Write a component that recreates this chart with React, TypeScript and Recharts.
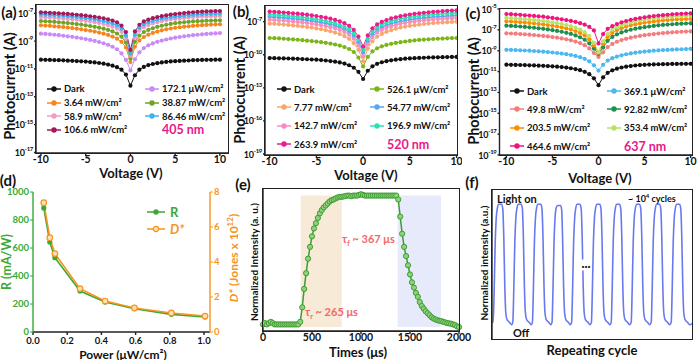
import React from 'react'
import { LineChart, Line, XAxis, YAxis, ReferenceArea } from 'recharts'

const FONT = 'Lato, "Open Sans", sans-serif'
const NM_PINK = '#e8178a'
const SALMON = '#f0696b'

// bias sweep (V)
const voltages = [-10, -9.5, -9, -8.5, -8, -7.5, -7, -6.5, -6, -5.5, -5, -4.5, -4, -3.5, -3, -2.5, -2, -1.5, -1, -0.5, 0, 0.5, 1, 1.5, 2, 2.5, 3, 3.5, 4, 4.5, 5, 5.5, 6, 6.5, 7, 7.5, 8, 8.5, 9, 9.5, 10]
const voltTicks = [-10, -5, 0, 5, 10]

// (a) 405 nm, log10 photocurrent
const a405Dark = [-10.33, -10.34, -10.35, -10.36, -10.37, -10.38, -10.4, -10.41, -10.43, -10.45, -10.47, -10.5, -10.53, -10.57, -10.62, -10.68, -10.76, -10.87, -11.05, -11.4, -12.2, -11.45, -11.05, -10.85, -10.72, -10.64, -10.58, -10.53, -10.49, -10.46, -10.44, -10.42, -10.4, -10.39, -10.37, -10.36, -10.35, -10.34, -10.34, -10.33, -10.33]
const a405P172 = [-8.46, -8.48, -8.51, -8.54, -8.57, -8.61, -8.65, -8.69, -8.74, -8.79, -8.85, -8.91, -8.98, -9.06, -9.15, -9.26, -9.4, -9.58, -9.88, -10.35, -11.1, -10.3, -9.8, -9.5, -9.3, -9.16, -9.05, -8.96, -8.88, -8.81, -8.75, -8.7, -8.65, -8.61, -8.57, -8.54, -8.51, -8.48, -8.46, -8.44, -8.42]
const a405P364 = [-7.86, -7.88, -7.9, -7.93, -7.96, -7.99, -8.02, -8.06, -8.1, -8.15, -8.2, -8.25, -8.31, -8.38, -8.46, -8.55, -8.67, -8.82, -9.05, -9.45, -10.5, -9.4, -8.95, -8.7, -8.53, -8.41, -8.31, -8.22, -8.15, -8.09, -8.04, -8.0, -7.96, -7.93, -7.9, -7.87, -7.85, -7.83, -7.81, -7.8, -7.79]
const a405P3887 = [-7.55, -7.57, -7.59, -7.61, -7.64, -7.67, -7.7, -7.73, -7.77, -7.81, -7.86, -7.91, -7.97, -8.03, -8.1, -8.19, -8.3, -8.45, -8.68, -9.1, -10.25, -9.05, -8.6, -8.35, -8.19, -8.07, -7.97, -7.89, -7.82, -7.76, -7.71, -7.67, -7.64, -7.61, -7.58, -7.56, -7.55, -7.53, -7.52, -7.51, -7.5]
const a405P589 = [-7.27, -7.28, -7.3, -7.32, -7.34, -7.37, -7.4, -7.43, -7.46, -7.5, -7.54, -7.59, -7.64, -7.7, -7.77, -7.85, -7.96, -8.1, -8.33, -8.8, -10.05, -8.75, -8.25, -8.0, -7.84, -7.73, -7.64, -7.56, -7.5, -7.44, -7.4, -7.36, -7.33, -7.3, -7.27, -7.25, -7.23, -7.22, -7.21, -7.2, -7.19]
const a405P8646 = [-7.09, -7.1, -7.12, -7.14, -7.16, -7.18, -7.21, -7.24, -7.27, -7.31, -7.35, -7.39, -7.44, -7.5, -7.56, -7.64, -7.74, -7.87, -8.1, -8.6, -9.9, -8.55, -8.05, -7.8, -7.65, -7.55, -7.46, -7.39, -7.33, -7.28, -7.24, -7.2, -7.17, -7.14, -7.11, -7.09, -7.07, -7.05, -7.04, -7.03, -7.02]
const a405P1066 = [-6.93, -6.94, -6.96, -6.98, -7.0, -7.02, -7.04, -7.07, -7.1, -7.13, -7.17, -7.21, -7.25, -7.3, -7.36, -7.43, -7.52, -7.64, -7.88, -8.35, -9.62, -8.3, -7.82, -7.58, -7.45, -7.35, -7.27, -7.2, -7.14, -7.09, -7.05, -7.01, -6.98, -6.95, -6.92, -6.9, -6.88, -6.86, -6.85, -6.84, -6.83]

// (b) 520 nm
const b520Dark = [-10.3, -10.31, -10.32, -10.33, -10.34, -10.36, -10.37, -10.39, -10.41, -10.43, -10.45, -10.48, -10.52, -10.57, -10.63, -10.7, -10.8, -10.95, -11.18, -11.55, -12.2, -11.45, -11.05, -10.82, -10.68, -10.58, -10.51, -10.45, -10.4, -10.36, -10.33, -10.31, -10.29, -10.27, -10.25, -10.24, -10.23, -10.22, -10.21, -10.2, -10.2]
const b520P526 = [-8.48, -8.5, -8.52, -8.55, -8.58, -8.61, -8.64, -8.68, -8.72, -8.76, -8.81, -8.86, -8.92, -8.99, -9.07, -9.17, -9.3, -9.48, -9.75, -10.25, -11.06, -10.2, -9.7, -9.42, -9.24, -9.11, -9.01, -8.93, -8.86, -8.8, -8.75, -8.7, -8.66, -8.63, -8.6, -8.57, -8.55, -8.53, -8.51, -8.49, -8.48]
const b520P777 = [-7.18, -7.2, -7.23, -7.26, -7.3, -7.34, -7.38, -7.43, -7.48, -7.54, -7.61, -7.68, -7.77, -7.87, -7.99, -8.13, -8.31, -8.56, -8.95, -9.55, -10.6, -9.45, -8.78, -8.37, -8.11, -7.92, -7.77, -7.64, -7.54, -7.45, -7.38, -7.32, -7.26, -7.21, -7.17, -7.13, -7.1, -7.07, -7.05, -7.02, -7.0]
const b520P5477 = [-6.57, -6.59, -6.62, -6.65, -6.69, -6.73, -6.77, -6.82, -6.87, -6.93, -7.0, -7.07, -7.15, -7.25, -7.36, -7.5, -7.68, -7.92, -8.28, -8.88, -9.8, -8.8, -8.15, -7.76, -7.52, -7.34, -7.2, -7.08, -6.98, -6.9, -6.83, -6.77, -6.72, -6.67, -6.63, -6.59, -6.56, -6.53, -6.5, -6.47, -6.45]
const b520P1427 = [-6.82, -6.84, -6.87, -6.9, -6.94, -6.98, -7.02, -7.07, -7.12, -7.18, -7.25, -7.32, -7.4, -7.5, -7.61, -7.75, -7.93, -8.18, -8.55, -9.15, -10.15, -9.05, -8.4, -8.0, -7.75, -7.57, -7.42, -7.3, -7.2, -7.11, -7.04, -6.98, -6.93, -6.88, -6.84, -6.8, -6.77, -6.74, -6.71, -6.68, -6.66]
const b520P1969 = [-6.36, -6.38, -6.41, -6.44, -6.48, -6.52, -6.56, -6.61, -6.66, -6.72, -6.79, -6.86, -6.94, -7.04, -7.15, -7.29, -7.46, -7.7, -8.05, -8.65, -9.55, -8.55, -7.9, -7.52, -7.28, -7.1, -6.96, -6.84, -6.74, -6.66, -6.59, -6.53, -6.48, -6.43, -6.39, -6.35, -6.32, -6.29, -6.26, -6.23, -6.21]
const b520P2639 = [-6.09, -6.11, -6.14, -6.17, -6.2, -6.24, -6.28, -6.32, -6.37, -6.43, -6.49, -6.56, -6.64, -6.73, -6.84, -6.97, -7.14, -7.38, -7.75, -8.35, -9.25, -8.25, -7.6, -7.25, -7.02, -6.85, -6.71, -6.6, -6.5, -6.42, -6.35, -6.29, -6.24, -6.19, -6.15, -6.11, -6.08, -6.05, -6.02, -5.99, -5.97]

// (c) 637 nm
const c637Dark = [-10.34, -10.35, -10.36, -10.37, -10.38, -10.4, -10.41, -10.43, -10.45, -10.47, -10.5, -10.53, -10.57, -10.62, -10.68, -10.76, -10.87, -11.02, -11.25, -11.65, -12.3, -11.55, -11.12, -10.88, -10.72, -10.61, -10.53, -10.47, -10.42, -10.38, -10.35, -10.33, -10.31, -10.3, -10.29, -10.28, -10.27, -10.27, -10.26, -10.26, -10.25]
const c637P369 = [-8.91, -8.92, -8.94, -8.96, -8.98, -9.0, -9.03, -9.06, -9.09, -9.13, -9.17, -9.22, -9.27, -9.33, -9.41, -9.5, -9.62, -9.78, -10.02, -10.4, -10.9, -10.35, -9.95, -9.72, -9.56, -9.44, -9.34, -9.26, -9.19, -9.13, -9.08, -9.04, -9.0, -8.97, -8.94, -8.92, -8.9, -8.88, -8.86, -8.84, -8.82]
const c637P498 = [-7.33, -7.35, -7.37, -7.4, -7.43, -7.46, -7.5, -7.54, -7.58, -7.63, -7.69, -7.75, -7.82, -7.9, -8.0, -8.12, -8.27, -8.47, -8.78, -9.22, -9.6, -9.15, -8.65, -8.35, -8.14, -7.98, -7.86, -7.75, -7.66, -7.58, -7.51, -7.45, -7.4, -7.35, -7.31, -7.27, -7.24, -7.21, -7.18, -7.16, -7.14]
const c637P9282 = [-6.6, -6.62, -6.65, -6.68, -6.72, -6.76, -6.8, -6.85, -6.9, -6.96, -7.03, -7.1, -7.18, -7.28, -7.39, -7.53, -7.71, -7.95, -8.3, -8.8, -9.3, -8.7, -8.05, -7.68, -7.43, -7.25, -7.11, -6.99, -6.89, -6.81, -6.74, -6.68, -6.62, -6.57, -6.53, -6.49, -6.46, -6.43, -6.41, -6.39, -6.37]
const c637P2035 = [-6.18, -6.2, -6.23, -6.26, -6.3, -6.34, -6.38, -6.43, -6.48, -6.54, -6.61, -6.68, -6.76, -6.86, -6.97, -7.11, -7.29, -7.54, -7.92, -8.5, -9.2, -8.35, -7.68, -7.28, -7.02, -6.84, -6.69, -6.57, -6.47, -6.38, -6.31, -6.25, -6.19, -6.14, -6.1, -6.06, -6.03, -6.0, -5.98, -5.96, -5.95]
const c637P3534 = [-5.86, -5.88, -5.91, -5.94, -5.98, -6.02, -6.06, -6.11, -6.16, -6.22, -6.29, -6.36, -6.44, -6.54, -6.65, -6.79, -6.97, -7.22, -7.6, -8.25, -9.14, -8.1, -7.4, -7.0, -6.74, -6.55, -6.4, -6.28, -6.18, -6.09, -6.01, -5.95, -5.89, -5.84, -5.8, -5.76, -5.73, -5.7, -5.68, -5.66, -5.64]
const c637P4646 = [-5.48, -5.5, -5.53, -5.56, -5.6, -5.63, -5.66, -5.7, -5.74, -5.8, -5.86, -5.92, -5.99, -6.06, -6.14, -6.24, -6.36, -6.5, -6.72, -7.05, -8.3, -7.4, -6.9, -6.65, -6.45, -6.28, -6.15, -6.04, -5.95, -5.87, -5.8, -5.74, -5.68, -5.63, -5.59, -5.55, -5.51, -5.48, -5.46, -5.44, -5.42]

// (d) responsivity / detectivity vs power
const dPower = [0.063, 0.098, 0.128, 0.275, 0.422, 0.593, 0.809, 1.006]
const dResp = [886, 643, 531, 293, 214, 167, 126, 107]
const dDetect = [7.39, 5.39, 4.48, 2.48, 1.77, 1.37, 1.09, 0.91]

// (e) single pulse response
const eTime = [0, 20, 40, 60, 80, 100, 120, 140, 160, 180, 200, 220, 240, 260, 280, 300, 320, 340, 360, 380, 400, 420, 440, 460, 480, 500, 520, 540, 560, 580, 600, 620, 640, 660, 680, 700, 720, 740, 760, 780, 800, 820, 840, 860, 880, 900, 920, 940, 960, 980, 1000, 1020, 1040, 1060, 1080, 1100, 1120, 1140, 1160, 1180, 1200, 1220, 1240, 1260, 1280, 1300, 1320, 1340, 1360, 1380, 1400, 1420, 1440, 1460, 1480, 1500, 1520, 1540, 1560, 1580, 1600, 1620, 1640, 1660, 1680, 1700, 1720, 1740, 1760, 1780, 1800, 1820, 1840, 1860, 1880, 1900, 1920, 1940, 1960, 1980, 2000]
const eIntensity = [0.02, 0.03, 0.02, 0.03, 0.04, 0.03, 0.02, 0.02, 0.02, 0.02, 0.02, 0.02, 0.02, 0.02, 0.02, 0.02, 0.02, 0.02, 0.02, 0.04, 0.15, 0.29, 0.41, 0.52, 0.61, 0.69, 0.75, 0.79, 0.83, 0.865, 0.89, 0.91, 0.925, 0.94, 0.955, 0.965, 0.97, 0.978, 0.985, 0.99, 0.99, 0.993, 0.996, 1.0, 1.0, 0.995, 1.0, 1.0, 1.0, 1.005, 1.01, 1.005, 1.0, 1.0, 1.0, 1.0, 1.0, 1.0, 1.0, 1.0, 1.0, 1.0, 1.0, 1.0, 1.0, 1.0, 1.0, 1.0, 1.0, 0.97, 0.84, 0.71, 0.61, 0.54, 0.47, 0.4, 0.34, 0.3, 0.26, 0.23, 0.19, 0.16, 0.14, 0.12, 0.105, 0.09, 0.075, 0.065, 0.058, 0.052, 0.048, 0.045, 0.04, 0.035, 0.03, 0.028, 0.025, 0.02, 0.015, 0.005, 0.0]
const eTicks = [0, 500, 1000, 1500, 2000]

// (f) repeated on/off cycles, [position, normalized intensity]
const fCycles = [
  [0, 0.03], [0.6, 0.02], [1.1, 0.3], [1.6, 0.68], [2.1, 0.88], [2.7, 0.97], [3.4, 1.0], [4.8, 1.0], [5.4, 0.96], [5.9, 0.72], [6.4, 0.32], [6.9, 0.1], [7.6, 0.04], [8.8, 0.02], [9.8, 0.0],
  [10.4, 0.02], [10.9, 0.3], [11.4, 0.68], [11.9, 0.88], [12.5, 0.97], [13.2, 1.0], [14.6, 1.0], [15.2, 0.96], [15.7, 0.72], [16.2, 0.32], [16.7, 0.1], [17.4, 0.04], [18.6, 0.02], [19.6, 0.0],
  [20.2, 0.02], [20.7, 0.3], [21.2, 0.68], [21.7, 0.88], [22.3, 0.97], [23.0, 1.0], [24.4, 1.0], [25.0, 0.96], [25.5, 0.72], [26.0, 0.32], [26.5, 0.1], [27.2, 0.04], [28.4, 0.02], [29.4, 0.0],
  [30.0, 0.02], [30.5, 0.3], [31.0, 0.68], [31.5, 0.88], [32.1, 0.97], [32.8, 0.99], [34.2, 0.99], [34.8, 0.96], [35.3, 0.72], [35.8, 0.32], [36.3, 0.1], [37.0, 0.04], [38.2, 0.02], [39.2, 0.0],
  [39.8, 0.02], [40.3, 0.3], [40.8, 0.68], [41.3, 0.88], [41.9, 0.97], [42.6, 1.0], [44.0, 1.0], [44.6, 0.96], [45.1, 0.72], [45.6, 0.32], [46.1, 0.1], [46.8, 0.04], [48.0, 0.02], [49.0, 0.0],
  [49.7, 0.02], [50.2, 0.3], [50.7, 0.68], [51.2, 0.88], [51.8, 0.97], [52.5, 1.0], [53.9, 1.0], [54.5, 0.96], [55.0, 0.72], [55.5, 0.32], [56.0, 0.1], [56.7, 0.04], [57.9, 0.02], [58.9, 0.0],
  [59.6, 0.02], [60.1, 0.3], [60.6, 0.68], [61.1, 0.88], [61.7, 0.97], [62.4, 1.0], [63.8, 1.0], [64.4, 0.96], [64.9, 0.72], [65.4, 0.32], [65.9, 0.1], [66.6, 0.04], [67.8, 0.02], [68.8, 0.0],
  [69.6, 0.02], [70.1, 0.3], [70.6, 0.68], [71.1, 0.88], [71.7, 0.97], [72.4, 1.0], [73.8, 1.0], [74.4, 0.96], [74.9, 0.72], [75.4, 0.32], [75.9, 0.1], [76.6, 0.04], [77.8, 0.02], [78.8, 0.0],
  [79.6, 0.02], [80.1, 0.3], [80.6, 0.68], [81.1, 0.88], [81.7, 0.97], [82.4, 1.0], [83.8, 1.0], [84.4, 0.96], [84.9, 0.72], [85.4, 0.32], [85.9, 0.1], [86.6, 0.04], [87.8, 0.02], [88.8, 0.0],
  [89.6, 0.02], [90.1, 0.3], [90.6, 0.68], [91.1, 0.88], [91.7, 0.97], [92.4, 1.0], [93.8, 1.0], [94.4, 0.96], [94.9, 0.72], [95.4, 0.32], [95.9, 0.1], [96.6, 0.04], [97.8, 0.02], [98.8, 0.0], [100, 0.01],
]

const seriesA = [
  { key: 'dark', name: 'Dark', color: '#111111', values: a405Dark },
  { key: 'p1', name: '172.1 μW/cm²', color: '#c98af5', values: a405P172 },
  { key: 'p2', name: '3.64 mW/cm²', color: '#f6851f', values: a405P364 },
  { key: 'p3', name: '38.87 mW/cm²', color: '#6ea526', values: a405P3887 },
  { key: 'p4', name: '58.9 mW/cm²', color: '#f59ac8', values: a405P589 },
  { key: 'p5', name: '86.46 mW/cm²', color: '#3db4f2', values: a405P8646 },
  { key: 'p6', name: '106.6 mW/cm²', color: '#a3195b', values: a405P1066 },
]
const seriesB = [
  { key: 'dark', name: 'Dark', color: '#111111', values: b520Dark },
  { key: 'p1', name: '526.1 μW/cm²', color: '#7cb518', values: b520P526 },
  { key: 'p2', name: '7.77 mW/cm²', color: '#f8a66c', values: b520P777 },
  { key: 'p3', name: '54.77 mW/cm²', color: '#52a8f2', values: b520P5477 },
  { key: 'p4', name: '142.7 mW/cm²', color: '#f78cc0', values: b520P1427 },
  { key: 'p5', name: '196.9 mW/cm²', color: '#2fe0b0', values: b520P1969 },
  { key: 'p6', name: '263.9 mW/cm²', color: '#ec1c8c', values: b520P2639 },
]
const seriesC = [
  { key: 'dark', name: 'Dark', color: '#111111', values: c637Dark },
  { key: 'p1', name: '369.1 μW/cm²', color: '#4db8f0', values: c637P369 },
  { key: 'p2', name: '49.8 mW/cm²', color: '#f47c7c', values: c637P498 },
  { key: 'p3', name: '92.82 mW/cm²', color: '#1f8f4f', values: c637P9282 },
  { key: 'p4', name: '203.5 mW/cm²', color: '#ff8c00', values: c637P2035 },
  { key: 'p5', name: '353.4 mW/cm²', color: '#b5e36b', values: c637P3534 },
  { key: 'p6', name: '464.6 mW/cm²', color: '#f0147e', values: c637P4646 },
]

type Series = { key: string; name: string; color: string; values: number[] }

function buildTable(series: Series[]) {
  return voltages.map((v, i) => {
    const row: Record<string, number> = { v }
    series.forEach((s) => {
      row[s.key] = Math.pow(10, s.values[i])
    })
    return row
  })
}

const frame = { stroke: '#222', strokeWidth: 1.4 }
const tickFont = { fontSize: 10.5, fontWeight: 700, fill: '#111', fontFamily: FONT }

function PowTick(props: any) {
  const { x, y, payload } = props
  const e = Math.round(Math.log10(payload.value))
  return (
    <text x={x} y={y} textAnchor="end" fontFamily={FONT} fontWeight={700} fill="#111" letterSpacing={-0.3}>
      <tspan fontSize={9} dy={3.5}>10</tspan>
      <tspan fontSize={6} dy={-4.5}>{e}</tspan>
    </text>
  )
}

// plot box outline (top/right sides of the axes frame)
function Frame({ x1, y1, x2, y2 }: any) {
  return (
    <div style={{
      position: 'absolute', left: x1 - 0.7, top: y1 - 0.7, width: x2 - x1 + 1.4, height: y2 - y1 + 1.4,
      border: '1.4px solid #222', boxSizing: 'border-box', pointerEvents: 'none',
    }} />
  )
}

function Txt({ x, y, size = 13, color = '#111', rot = false, anchor = 'center', italic = false, bg, children }: any) {
  const tx = anchor === 'center' ? '-50%' : '0'
  return (
    <div
      style={{
        position: 'absolute',
        left: x,
        top: y,
        transform: `translate(${tx}, -50%)${rot ? ' rotate(-90deg)' : ''}`,
        transformOrigin: anchor === 'center' ? 'center' : 'left center',
        whiteSpace: 'nowrap',
        fontFamily: FONT,
        fontWeight: 700,
        fontSize: size,
        fontStyle: italic ? 'italic' : 'normal',
        color,
        lineHeight: 1,
        background: bg,
      }}
    >
      {children}
    </div>
  )
}

function Marker({ color, hollow = false, w = 14 }: any) {
  return (
    <svg width={w} height={8} style={{ flex: 'none' }}>
      <line x1={0} x2={w} y1={4} y2={4} stroke={color} strokeWidth={1.5} />
      <circle cx={w / 2} cy={4} r={2.7} fill={hollow ? '#fde0b8' : color} stroke={color} strokeWidth={hollow ? 1.2 : 0} />
    </svg>
  )
}

function IVPanel({ p }: any) {
  const data = buildTable(p.series)
  const lg = p.legend
  return (
    <div style={{ position: 'absolute', left: p.left, top: p.top }}>
      <LineChart width={p.width} height={p.height} data={data} margin={p.margin}>
        <XAxis dataKey="v" type="number" domain={p.xDomain} ticks={voltTicks} allowDataOverflow height={16}
          tickSize={3} tickMargin={0} tick={tickFont} axisLine={frame} tickLine={frame} interval={0} />
        <YAxis type="number" scale="log" domain={[Math.pow(10, p.yExp[0]), Math.pow(10, p.yExp[1])]} allowDataOverflow
          ticks={p.yTicks.map((e: number) => Math.pow(10, e))} interval={0} width={p.yWidth}
          tickSize={2} tickMargin={1} tick={<PowTick />} axisLine={frame} tickLine={frame} />
        {p.series.map((s: Series) => (
          <Line key={s.key} dataKey={s.key} name={s.name} stroke={s.color} strokeWidth={1}
            dot={{ r: 2.1, fill: s.color, stroke: 'none' }} isAnimationActive={false} />
        ))}
      </LineChart>
      <div style={{
        position: 'absolute', left: lg.left, top: lg.top, display: 'grid',
        gridTemplateColumns: `${lg.colW}px ${lg.colW}px`, gridAutoRows: `${lg.rowH}px`,
        alignItems: 'center', fontFamily: FONT, fontWeight: 700, fontSize: 9.5, color: '#111',
      }}>
        {p.series.map((s: Series) => (
          <div key={s.key} style={{ display: 'flex', alignItems: 'center', whiteSpace: 'nowrap' }}>
            <Marker color={s.color} />
            <span style={{ marginLeft: 3 }}>{s.name}</span>
          </div>
        ))}
        <div style={{ paddingLeft: 17, color: NM_PINK, fontSize: 12.5 }}>{p.nm}</div>
      </div>
    </div>
  )
}

const panelA = {
  left: 0, top: 0, width: 240, height: 169, margin: { top: 5, right: 12, left: 0, bottom: 0 }, yWidth: 36,
  xDomain: [-10.55, 10.9], yExp: [-17.04, -6.4], yTicks: [-17, -15, -13, -11, -9, -7],
  series: seriesA, legend: { left: 47, top: 82, colW: 98, rowH: 13.7 }, nm: '405 nm',
}
const panelB = {
  left: 230, top: 0, width: 232, height: 171, margin: { top: 6, right: 4.5, left: 0, bottom: 0 }, yWidth: 35,
  xDomain: [-10.5, 10.1], yExp: [-19.09, -5.58], yTicks: [-19, -16, -13, -10, -7],
  series: seriesB, legend: { left: 47, top: 80, colW: 93, rowH: 18.3 }, nm: '520 nm',
}
const panelC = {
  left: 462, top: 0, width: 238, height: 171, margin: { top: 9, right: 8, left: 0, bottom: 0 }, yWidth: 37.5,
  xDomain: [-10.75, 10.15], yExp: [-19, -5], yTicks: [-19, -17, -15, -13, -11, -9, -7, -5],
  series: seriesC, legend: { left: 48, top: 82, colW: 97, rowH: 18.3 }, nm: '637 nm',
}

const GREEN = '#3aa935'
const ORANGE = '#f7941d'

function PanelD() {
  const data = dPower.map((p, i) => ({ p, r: dResp[i], d: dDetect[i] }))
  const sideTick = { ...tickFont, fontSize: 9.5 }
  return (
    <div style={{ position: 'absolute', left: 0, top: 180 }}>
      <LineChart width={240} height={166} data={data} margin={{ top: 12, right: 0, left: 0, bottom: 0 }}>
        <XAxis dataKey="p" type="number" domain={[0, 1.035]} ticks={[0, 0.2, 0.4, 0.6, 0.8, 1.0]} interval={0}
          tickFormatter={(v: number) => v.toFixed(1)} height={14} tickSize={3} tickMargin={2}
          tick={{ ...tickFont, fontSize: 9.5 }} axisLine={frame} tickLine={frame} />
        <YAxis yAxisId="r" domain={[0, 1000]} ticks={[0, 200, 400, 600, 800, 1000]} interval={0} width={33}
          tickSize={3} tickMargin={1} tick={{ ...sideTick, fill: GREEN }}
          axisLine={{ stroke: GREEN, strokeWidth: 1.4 }} tickLine={{ stroke: GREEN }} />
        <YAxis yAxisId="d" orientation="right" domain={[0, 8]} ticks={[0, 2, 4, 6, 8]} interval={0} width={30}
          tickSize={3} tickMargin={1} tick={{ ...sideTick, fill: ORANGE }}
          axisLine={{ stroke: ORANGE, strokeWidth: 1.4 }} tickLine={{ stroke: ORANGE }} />
        <Line yAxisId="r" dataKey="r" stroke={GREEN} strokeWidth={1.6}
          dot={{ r: 2.6, fill: GREEN, stroke: GREEN, strokeWidth: 0 }} isAnimationActive={false} />
        <Line yAxisId="d" dataKey="d" stroke={ORANGE} strokeWidth={1.6}
          dot={{ r: 2.8, fill: '#fde0b8', stroke: ORANGE, strokeWidth: 1.2 }} isAnimationActive={false} />
      </LineChart>
      <div style={{ position: 'absolute', left: 147, top: 23, fontFamily: FONT, fontWeight: 700, fontSize: 13 }}>
        <div style={{ display: 'flex', alignItems: 'center', height: 17, color: GREEN }}>
          <Marker color={GREEN} w={18} /><span style={{ marginLeft: 5 }}>R</span>
        </div>
        <div style={{ display: 'flex', alignItems: 'center', height: 17, color: ORANGE }}>
          <Marker color={ORANGE} hollow w={18} /><span style={{ marginLeft: 5, fontStyle: 'italic' }}>D*</span>
        </div>
      </div>
    </div>
  )
}

function PanelE() {
  const data = eTime.map((t, i) => ({ t, y: eIntensity[i] }))
  return (
    <div style={{ position: 'absolute', left: 232, top: 180 }}>
      <LineChart width={242} height={165} data={data} margin={{ top: 9, right: 15, left: 0, bottom: 0 }}>
        <XAxis dataKey="t" type="number" domain={[0, 2000]} ticks={eTicks} interval={0} height={14}
          tickSize={3} tickMargin={0} tick={tickFont} axisLine={frame} tickLine={frame} />
        <YAxis domain={[-0.03, 1.05]} width={31} tick={false} tickLine={false} axisLine={frame} />
        <ReferenceArea x1={385} x2={803} y1={0} y2={1} fill="#f7ead6" fillOpacity={1} stroke="none" />
        <ReferenceArea x1={1374} x2={1816} y1={0} y2={1} fill="#e6eafb" fillOpacity={1} stroke="none" />
        <Line dataKey="y" stroke="#3f9c33" strokeWidth={1.5}
          dot={{ r: 2.6, fill: '#8fd27c', stroke: '#3f9c33', strokeWidth: 1 }} isAnimationActive={false} />
      </LineChart>
    </div>
  )
}

function PanelF() {
  const data = fCycles.map(([x, y]) => ({ x, y }))
  return (
    <div style={{ position: 'absolute', left: 462, top: 180 }}>
      <LineChart width={238} height={159} data={data} margin={{ top: 10, right: 8, left: 0, bottom: 0 }}>
        <XAxis dataKey="x" type="number" domain={[0, 100]} height={0} tick={false} tickLine={false} axisLine={frame} />
        <YAxis domain={[-0.118, 1.118]} width={30} tick={false} tickLine={false} axisLine={frame} />
        <Line dataKey="y" type="monotone" stroke="#6878ee" strokeWidth={1.6} dot={false} isAnimationActive={false} />
      </LineChart>
    </div>
  )
}

export default function App() {
  return (
    <div style={{ position: 'absolute', left: 0, top: 0, width: 700, height: 360, background: '#fff', overflow: 'hidden' }}>
      <IVPanel p={panelA} />
      <IVPanel p={panelB} />
      <IVPanel p={panelC} />
      <PanelD />
      <PanelE />
      <PanelF />

      <Frame x1={36} y1={5} x2={228} y2={153} />
      <Frame x1={265} y1={6} x2={457.5} y2={155} />
      <Frame x1={499.5} y1={9} x2={692} y2={155} />
      <Frame x1={263} y1={189} x2={459} y2={331} />
      <Frame x1={492} y1={190} x2={692} y2={339} />

      <Txt x={9} y={12} size={15}>(a)</Txt>
      <Txt x={241} y={11} size={15}>(b)</Txt>
      <Txt x={473} y={13} size={15}>(c)</Txt>
      <Txt x={8} y={180} size={15}>(d)</Txt>
      <Txt x={243} y={184} size={15}>(e)</Txt>
      <Txt x={472} y={182} size={15}>(f)</Txt>

      <Txt x={9.5} y={86} size={14.5} rot>Photocurrent (A)</Txt>
      <Txt x={131} y={173}>Voltage (V)</Txt>
      <Txt x={240} y={90} size={14.5} rot>Photocurrent (A)</Txt>
      <Txt x={366} y={175}>Voltage (V)</Txt>
      <Txt x={474} y={91} size={14.5} rot>Photocurrent (A)</Txt>
      <Txt x={600} y={178}>Voltage (V)</Txt>

      <Txt x={7} y={262} size={12.5} color={GREEN} rot>R (mA/W)</Txt>
      <Txt x={233} y={258} size={12} color={ORANGE} rot>
        <span style={{ fontStyle: 'italic' }}>D*</span> (Jones x 10<sup style={{ fontSize: 8 }}>12</sup>)
      </Txt>
      <Txt x={123} y={354.5} size={12}>Power (μW/cm²)</Txt>

      <Txt x={254} y={262} size={10} rot>Normalized Intensity (a. u.)</Txt>
      <Txt x={358} y={352}>Times (μs)</Txt>
      <Txt x={305} y={313} size={11} color={SALMON} anchor="left">τ<sub style={{ fontSize: 7 }}>r</sub> ~ 265 μs</Txt>
      <Txt x={342} y={240} size={11} color={SALMON} anchor="left">τ<sub style={{ fontSize: 7 }}>f</sub> ~ 367 μs</Txt>

      <Txt x={484} y={263} size={10} rot>Normalized intensity (a.u.)</Txt>
      <Txt x={592} y={350}>Repeating cycle</Txt>
      <Txt x={497} y={198} size={11} anchor="left">Light on</Txt>
      <Txt x={628} y={198} size={9} anchor="left">~ 10<sup style={{ fontSize: 6 }}>4</sup> cycles</Txt>
      <Txt x={513} y={332} size={11} anchor="left">Off</Txt>
      <Txt x={586} y={265} size={11} bg="#fff">···</Txt>
    </div>
  )
}
